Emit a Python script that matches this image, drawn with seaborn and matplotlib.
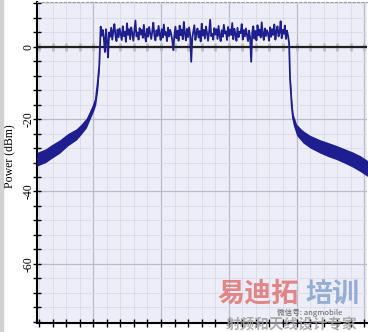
import numpy as np
import pandas as pd
import matplotlib
matplotlib.use("Agg")
import matplotlib.pyplot as plt
from matplotlib.ticker import MultipleLocator, FixedLocator, NullFormatter
from matplotlib.patches import Rectangle
import seaborn as sns

# ---------------- data ----------------
band_start_mhz = -13.9
band_stop_mhz = 13.9
band_db = [
    5.5, 3.0, 4.6, 2.2, -1.5, 4.8, 1.6, -3.0, 3.9, 2.7, 5.2, 1.9, 4.3, 6.2, 3.1, 1.5, 4.7, 2.6,
    5.0, 3.4, 1.8, 5.6, 2.9, 4.1, 1.3, 6.4, 3.2, 4.8, 2.0, 5.3, 3.7, 1.6, 4.4, 7.2, 2.8, 3.9,
    1.9, 5.1, 3.3, 4.6, 2.4, 6.0, 3.0, 1.4, 4.9, 2.7, 5.4, 3.6, 2.1, 4.2, 6.6, 3.1, 1.7, 4.5,
    2.9, 5.7, 3.5, 1.8, 4.8, 2.5, 6.1, 3.2, 4.0, 1.5, 5.2, 2.8, 4.6, 3.4, 1.9, -1.0, 3.0, 5.5,
    2.3, 4.4, 1.6, 5.8, 3.1, 4.7, 2.0, 6.8, 3.6, 1.7, 4.9, 2.6, 5.3, 3.2, -4.2, 2.4, 4.1, 5.9,
    1.8, 3.7, 5.0, 2.5, 4.3, 1.4, 6.3, 3.0, 4.6, 2.2, 5.5, 3.8, 1.6, 4.0, 7.4, 2.9, 3.5, 1.9,
    5.1, 3.3, 4.8, 2.1, 5.7, 3.0, 1.5, 4.5, 2.7, 6.0, 3.6, 4.2, 1.8, 5.4, 2.9, 4.7, 3.2, 6.5,
    2.0, 4.9, 3.4, 1.6, 5.2, 2.6, 4.1, 3.7, 6.2, 1.9, 4.6, 2.8, 5.0, 3.3, 1.5, 4.4, 2.4, -4.2,
    3.9, 5.6, 2.2, 4.3, 1.7, 5.9, 3.1, 4.7, 2.5, 6.7, 3.4, 1.8, 5.0, 2.9, 4.5, 3.6, 1.6, 5.3,
    2.7, 4.8, 3.2, 6.1, 1.9, 4.2, 5.6, 2.8, 3.9, 7.0, 2.3, 4.6, 3.5, 5.8, 2.1, 4.4, 3.0, 1.0,
]

left_skirt_mhz = [-23.3, -22.0, -21.25, -20.0, -18.75, -17.5, -16.84, -16.0, -15.37, -14.9, -14.63, -14.34, -14.1]
left_skirt_db  = [-31.0, -30.0, -29.0, -27.6, -25.6, -24.2, -22.9, -21.0, -18.3, -16.3, -14.7, -10.0, -5.0]
left_skirt_lo  = [-33.0, -32.0, -31.0, -29.5, -27.4, -25.8, -24.4, -22.4, -19.6, -17.6, -16.0, -12.0, -6.0]
left_skirt_hi  = [-29.2, -28.2, -27.2, -25.8, -24.0, -22.7, -21.5, -19.7, -17.2, -15.2, -13.6, -8.5, -4.0]

right_skirt_mhz = [14.05, 14.3, 14.5, 15.0, 15.5, 15.96, 17.0, 18.46, 19.7, 20.9, 22.1, 23.3, 24.4, 25.6]
right_skirt_db  = [-9.0, -16.5, -20.0, -22.9, -24.0, -24.8, -26.2, -27.5, -28.4, -29.2, -30.1, -31.1, -32.2, -33.8]
right_skirt_lo  = [-10.0, -18.0, -21.5, -24.5, -25.6, -26.6, -28.0, -29.4, -30.4, -31.2, -32.2, -33.3, -34.5, -36.0]
right_skirt_hi  = [-8.0, -15.0, -18.6, -21.4, -22.4, -23.2, -24.5, -25.7, -26.5, -27.3, -28.2, -29.1, -30.1, -31.6]

x_major = [-15, -5, 5, 15, 25]
y_ticks = [0, -20, -40, -60]
y_tick_labels = ["0", "-20", "-40", "-60"]
y_label = "Power (dBm)"

# ---------------- build trace ----------------
band_mhz = np.linspace(band_start_mhz, band_stop_mhz, len(band_db))
freq = list(left_skirt_mhz) + list(band_mhz) + list(right_skirt_mhz)
power = list(left_skirt_db) + list(band_db) + list(right_skirt_db)
df = pd.DataFrame({"freq": freq, "power": power})

navy = "#1e1e90"
W, H = 368, 332
fig = plt.figure(figsize=(W / 100, H / 100), dpi=100)
fig.patch.set_facecolor("white")
fig.patches.append(Rectangle((0, 0), 3 / W, 1, transform=fig.transFigure,
                             color="#d2d2d2", zorder=0))

ax = fig.add_axes([37 / W, 9 / H, (367 - 37) / W, (322 - 1) / H])
ax.set_facecolor("#ededf7")
ylim = (-76.3, 12.3)
xlim = (-23.3, 25.4)

ax.fill_between(left_skirt_mhz, left_skirt_lo, left_skirt_hi, color=navy, lw=0, zorder=3)
ax.fill_between(right_skirt_mhz, right_skirt_lo, right_skirt_hi, color=navy, lw=0, zorder=3)
sns.lineplot(data=df, x="freq", y="power", estimator=None, sort=False,
             color=navy, lw=1.3, ax=ax, zorder=4)

ax.set_xlim(*xlim)
ax.set_ylim(*ylim)

ax.xaxis.set_major_locator(FixedLocator(x_major))
ax.xaxis.set_minor_locator(MultipleLocator(2, offset=1))
ax.yaxis.set_major_locator(FixedLocator(y_ticks))
ax.yaxis.set_minor_locator(MultipleLocator(4))
ax.set_yticklabels(y_tick_labels)
ax.xaxis.set_major_formatter(NullFormatter())

ax.grid(which="minor", color="#dadae8", lw=0.6)
ax.grid(which="major", color="#babac8", lw=0.9)
ax.set_axisbelow(True)
ax.axhline(0, color="#202020", lw=1.6, zorder=2)

ax.tick_params(axis="both", which="both", direction="inout", length=6,
               width=1, color="black")
ax.tick_params(axis="x", labelbottom=False)
ax.tick_params(axis="y", pad=-1)
for lbl in ax.get_yticklabels():
    lbl.set_rotation(90)
    lbl.set_va("center")
    lbl.set_family("Liberation Serif")
    lbl.set_fontsize(8.5)

for s in ("left", "bottom"):
    ax.spines[s].set_color("black")
    ax.spines[s].set_linewidth(1.5)
ax.spines["right"].set_visible(False)
ax.spines["top"].set_color("#9a9aaa")
ax.spines["top"].set_linestyle((0, (2, 2)))
ax.spines["top"].set_linewidth(0.8)

ax.set_xlabel("")
ax.set_ylabel(y_label, family="Liberation Serif", fontsize=8.5)
ax.yaxis.set_label_coords((15 - 37) / (367 - 37), (322 - 155) / (322 - 1))

# ticks along the zero line
frac = (0 - ylim[0]) / (ylim[1] - ylim[0])
sec = ax.secondary_xaxis(frac)
sec.xaxis.set_major_locator(FixedLocator(x_major))
sec.xaxis.set_minor_locator(MultipleLocator(2, offset=1))
sec.tick_params(which="both", direction="inout", length=6, width=1,
                labeltop=False, labelbottom=False, color="#202020")
for s in sec.spines.values():
    s.set_visible(False)

# watermark
cjk = ["Noto Sans CJK SC", "DejaVu Sans"]
fig.text(217 / W, 1 - 294 / H, "易迪拓", color="#e07a7a", fontsize=19.5,
         fontweight="bold", family=cjk, va="center", ha="left", alpha=0.9)
fig.text(305 / W, 1 - 294 / H, "培训", color="#8aa6d0", fontsize=19.5,
         fontweight="bold", family=cjk, va="center", ha="left", alpha=0.9)
fig.text(292 / W, 1 - 324 / H, "射频和天线设计专家", color="#a0a0a0", fontsize=10.5,
         fontweight="bold", family=cjk, va="center", ha="center", alpha=0.85)
fig.text(310 / W, 1 - 312.5 / H, "微信号: angmobile", color="#606060", fontsize=5.5,
         family=cjk, va="center", ha="center")

fig.savefig("out.png", dpi=100)
